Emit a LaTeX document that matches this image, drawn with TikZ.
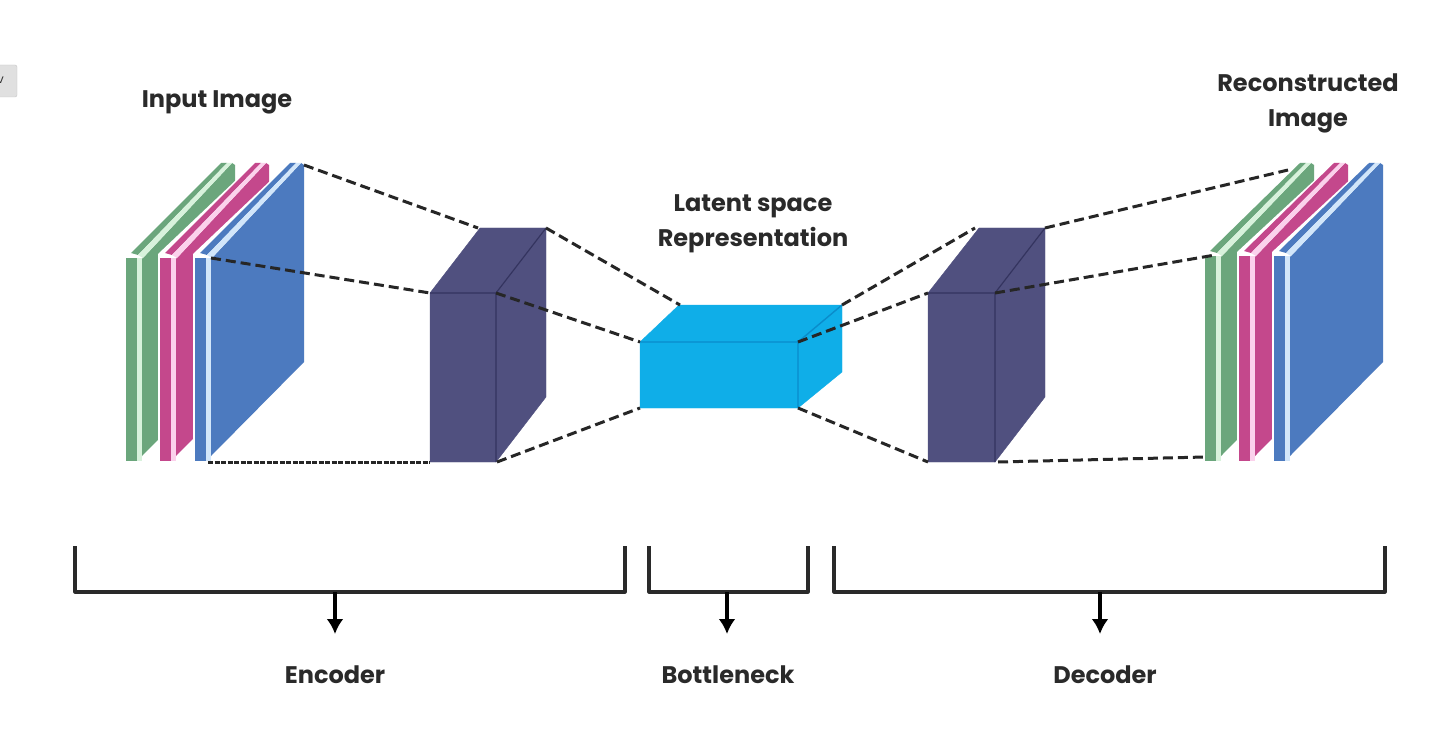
\documentclass[tikz,border=0pt]{standalone}
\usepackage{fontspec}
\setmainfont{Poppins}
\usetikzlibrary{arrows.meta}
\definecolor{ligGreen}{HTML}{6BA67C}
\definecolor{ligGreenPale}{HTML}{D8F2DC}
\definecolor{ligPink}{HTML}{C4488C}
\definecolor{ligPinkPale}{HTML}{FBD2EC}
\definecolor{ligBlue}{HTML}{4C7ABF}
\definecolor{ligBluePale}{HTML}{D2E6FA}
\definecolor{ligSlate}{HTML}{50507F}
\definecolor{ligSlateEdge}{HTML}{34345F}
\definecolor{ligCyan}{HTML}{0FAEE8}
\definecolor{ligCyanEdge}{HTML}{0A8CCB}
\definecolor{ligInk}{HTML}{2A2A2A}

\begin{document}
\begin{tikzpicture}[x=1pt,y=-1pt,>=Latex,line join=round]
\useasboundingbox (0,0) rectangle (1456,754);
\path[fill=white] (0,0) rectangle (1456,754);
\tikzset{dashline/.style={draw=black!85,line width=3pt,dash pattern=on 10pt off 5pt},bracket/.style={draw=ligInk,line width=3.2pt},drop/.style={draw=black,line width=3.2pt,-{Latex[length=15pt,width=17pt]}},caption/.style={font=\bfseries\fontsize{24}{35}\selectfont,text=ligInk,align=center,inner sep=0pt}}
% stray tab at the edge
\path[fill=black!12,draw=black!22,rounded corners=2pt] (-6,65) rectangle (17,97);
\node[anchor=east,font=\large,text=black!80,inner sep=0pt] (tabMark) at (4,80) {v};
% image plates, back to front
\foreach \px/\py/\pc/\pl in {126/258/ligGreen/ligGreenPale,160/258/ligPink/ligPinkPale,195/258/ligBlue/ligBluePale,1205/256/ligGreen/ligGreenPale,1239/256/ligPink/ligPinkPale,1274/256/ligBlue/ligBluePale}{
  \path[fill=white] (\px-2,\py-4) -- (\px+94,163) -- (\px+110,163) -- (\px+110,362) -- (\px+16,463) -- (\px-2,463) -- cycle;
  \path[fill=\pc] (\px+16,\py+1) -- (\px+106,163) -- (\px+109,165) -- (\px+109,362) -- (\px+16,456) -- cycle;
  \path[fill=\pc] (\px+5,\py-5) -- (\px+95,163) -- (\px+101,163) -- (\px+12,\py-3) -- cycle;
  \path[fill=\pl] (\px+12,\py-3) -- (\px+101,163) -- (\px+106,163) -- (\px+17,\py) -- cycle;
  \path[fill=\pc] (\px,\py) rectangle (\px+11,461);
  \path[fill=\pl] (\px+11,\py) rectangle (\px+16,461);
}
% blocks
\foreach \bx/\bb/\bn in {430/546/a,928/1045/b}{
  \path[fill=ligSlate,draw=ligSlate] (\bx,293) -- (\bb-66,228) -- (\bb,228) -- (\bb,397) -- (\bb-50,462) -- (\bx,462) -- cycle;
  \draw[ligSlateEdge,line width=1.2pt] (\bx,293) -- (\bb-50,293) -- (\bb-50,462) (\bb-50,293) -- (\bb,228);
}
\path[fill=ligCyan,draw=ligCyan] (640,342) -- (679,305) -- (842,305) -- (842,372) -- (798,408) -- (640,408) -- cycle;
\draw[ligCyanEdge,line width=1.4pt] (640,342) -- (798,342) -- (798,408) (798,342) -- (842,305);
% corners
\coordinate (inTop) at (304,165);
\coordinate (inMid) at (211,258);
\coordinate (inLow) at (208,462);
\coordinate (encTop) at (478,228);
\coordinate (encBack) at (546,228);
\coordinate (encFrontL) at (430,293);
\coordinate (encFrontR) at (496,293);
\coordinate (encLowL) at (430,462);
\coordinate (encLowR) at (497,462);
\coordinate (latBack) at (680,305);
\coordinate (latBackR) at (842,305);
\coordinate (latFrontL) at (640,342);
\coordinate (latFrontR) at (798,342);
\coordinate (latLowL) at (640,408);
\coordinate (latLowR) at (798,408);
\coordinate (decTop) at (975,228);
\coordinate (decBack) at (1045,228);
\coordinate (decFrontL) at (928,293);
\coordinate (decFrontR) at (995,293);
\coordinate (decLowL) at (928,462);
\coordinate (decLowR) at (998,462);
\coordinate (outTop) at (1288,170);
\coordinate (outMid) at (1215,255);
\coordinate (outLow) at (1205,457);
\draw[dashline] (inTop) -- (encTop);
\draw[dashline] (inMid) -- (encFrontL);
\draw[dashline,dash pattern=on 5pt off 1.5pt] (inLow) -- (encLowL);
\draw[dashline] (encBack) -- (latBack);
\draw[dashline] (encFrontR) -- (latFrontL);
\draw[dashline] (encLowR) -- (latLowL);
\draw[dashline] (latBackR) -- (decTop);
\draw[dashline] (latFrontR) -- (decFrontL);
\draw[dashline] (latLowR) -- (decLowL);
\draw[dashline] (decBack) -- (outTop);
\draw[dashline] (decFrontR) -- (outMid);
\draw[dashline] (decLowR) -- (outLow);
% labels
\node[caption] (inputLabel) at (217,102) {Input Image};
\node[caption] (outputLabel) at (1308,103) {Reconstructed\\Image};
\node[caption] (latentLabel) at (753,224) {Latent space\\Representation};
% brackets
\draw[bracket] (75,546) -- (75,592) -- (625,592) -- (625,546);
\draw[bracket] (649,546) -- (649,592) -- (808,592) -- (808,546);
\draw[bracket] (834,546) -- (834,592) -- (1385,592) -- (1385,546);
\node[caption] (encoderLabel) at (335,675) {Encoder};
\node[caption] (bottleneckLabel) at (728,675) {Bottleneck};
\node[caption] (decoderLabel) at (1105,675) {Decoder};
\coordinate (encoderFoot) at (335,592);
\coordinate (bottleneckFoot) at (727,592);
\coordinate (decoderFoot) at (1100,592);
\draw[drop] (encoderFoot) -- (335,634);
\draw[drop] (bottleneckFoot) -- (727,634);
\draw[drop] (decoderFoot) -- (1100,634);
\end{tikzpicture}
\end{document}
